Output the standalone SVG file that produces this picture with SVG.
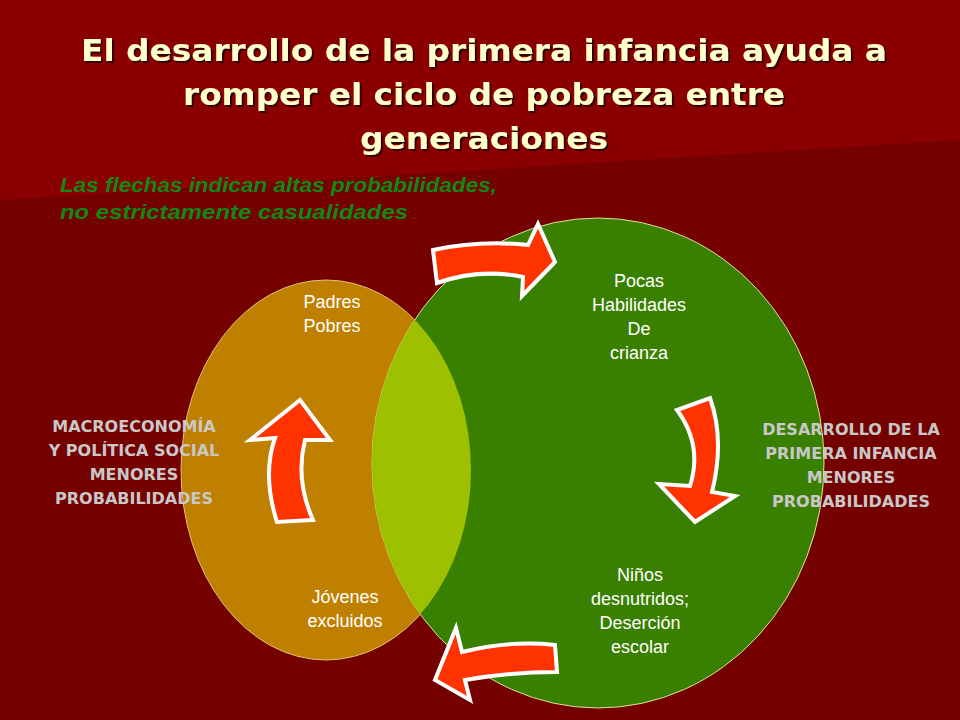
<svg xmlns="http://www.w3.org/2000/svg" width="960" height="720" viewBox="0 0 960 720">
<defs>
<filter id="sh" x="-5%" y="-20%" width="110%" height="150%"><feDropShadow dx="2" dy="2" stdDeviation="0.5" flood-color="#300000" flood-opacity="1"/></filter>
<clipPath id="c1"><ellipse cx="326" cy="470" rx="145" ry="190"/></clipPath>
</defs>
<style>
.t{font-family:"DejaVu Sans",Verdana,sans-serif;font-weight:bold;font-size:31px;fill:#FFFFCC;text-anchor:middle}
.n{font-family:"Liberation Sans",Arial,sans-serif;font-size:18px;fill:#fff;text-anchor:middle}
.s{font-family:"DejaVu Sans",Verdana,sans-serif;font-weight:bold;font-size:16px;fill:#C8C8C8;text-anchor:middle}
.g{font-family:"Liberation Sans",Arial,sans-serif;font-weight:bold;font-style:italic;font-size:20px;fill:#118811}
.a{fill:#FF3300;stroke:#fff;stroke-width:4;stroke-linejoin:miter}
</style>
<rect width="960" height="720" fill="#8A0000"/>
<path d="M0,200 L960,140 L960,720 L0,720 Z" fill="#740000"/>
<g id="title" filter="url(#sh)">
<text class="t" x="484" y="61" textLength="806" lengthAdjust="spacingAndGlyphs">El desarrollo de la primera infancia ayuda a</text>
<text class="t" x="484" y="105" textLength="602" lengthAdjust="spacingAndGlyphs">romper el ciclo de pobreza entre</text>
<text class="t" x="484" y="149" textLength="248" lengthAdjust="spacingAndGlyphs">generaciones</text>
</g>
<g id="note">
<text class="g" x="60" y="192" textLength="437" lengthAdjust="spacingAndGlyphs">Las flechas indican altas probabilidades,</text>
<text class="g" x="60" y="219" textLength="348" lengthAdjust="spacingAndGlyphs">no estrictamente casualidades</text>
</g>
<g id="circles">
<ellipse cx="326" cy="470" rx="145" ry="190" fill="#BF8000" stroke="#E0C080" stroke-width="1"/>
<ellipse cx="598" cy="463" rx="226" ry="245" fill="#3A8000" stroke="#E0E0A0" stroke-width="1"/>
<ellipse cx="598" cy="463" rx="226" ry="245" fill="#9DC000" clip-path="url(#c1)"/>
</g>
<g id="connectors">
<path class="a" d="M433,250 Q480,240 528,245 L538,224 L555,262 L522,296 L523,277 Q480,268 437,283 Z"/>
<path class="a" d="M677,410 Q703,445 690,486 L659,484 L695,522 L735,496 L712,492 Q725,440 710,398 Z"/>
<path class="a" d="M555,645 Q510,640 462,652 L456,628 L435,680 L470,700 L465,680 Q510,672 557,672 Z"/>
<path class="a" d="M277,522 Q262,475 275,438 L250,440 L300,400 L330,440 L305,440 Q295,480 313,520 Z"/>
</g>
<g id="padres"><text class="n" x="332" y="308">Padres</text><text class="n" x="332" y="332">Pobres</text></g>
<g id="pocas"><text class="n" x="639" y="287">Pocas</text><text class="n" x="639" y="311">Habilidades</text><text class="n" x="639" y="335">De</text><text class="n" x="639" y="359">crianza</text></g>
<g id="ninos"><text class="n" x="640" y="581">Niños</text><text class="n" x="640" y="605">desnutridos;</text><text class="n" x="640" y="629">Deserción</text><text class="n" x="640" y="653">escolar</text></g>
<g id="jovenes"><text class="n" x="345" y="603">Jóvenes</text><text class="n" x="345" y="627">excluidos</text></g>
<g id="macro"><text class="s" x="134" y="432">MACROECONOMÍA</text><text class="s" x="134" y="456">Y POLÍTICA SOCIAL</text><text class="s" x="134" y="480">MENORES</text><text class="s" x="134" y="504">PROBABILIDADES</text></g>
<g id="dpi"><text class="s" x="851" y="435">DESARROLLO DE LA</text><text class="s" x="851" y="459">PRIMERA INFANCIA</text><text class="s" x="851" y="483">MENORES</text><text class="s" x="851" y="507">PROBABILIDADES</text></g>
</svg>
